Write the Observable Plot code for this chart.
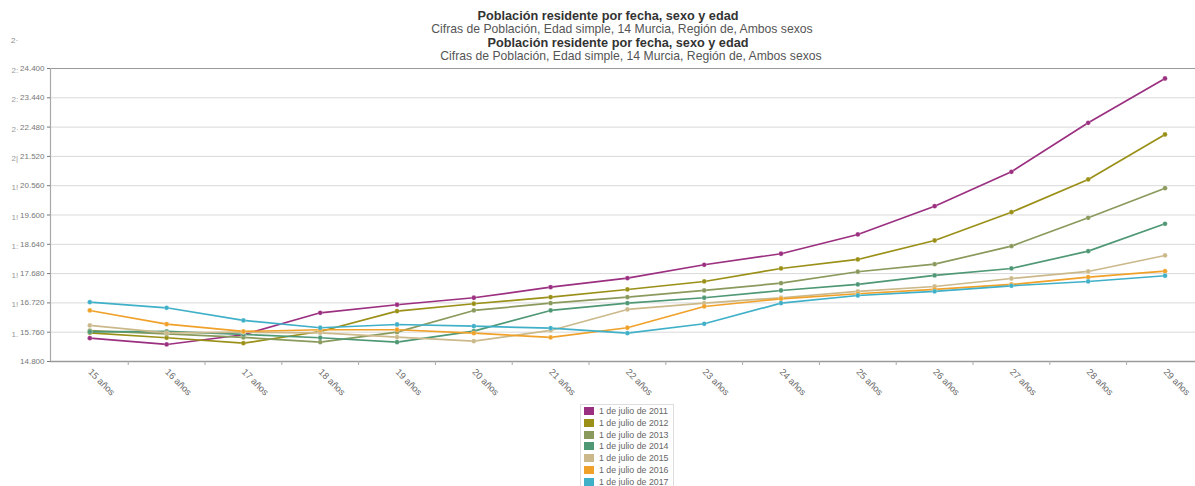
<!DOCTYPE html>
<html>
<head>
<meta charset="utf-8">
<script src="https://cdn.jsdelivr.net/npm/d3@7"></script>
<script src="https://cdn.jsdelivr.net/npm/@observablehq/plot@0.6"></script>
<style>
  body { margin: 0; background: #fff; font-family: "Liberation Sans", Arial, sans-serif; }
  #wrap { position: relative; width: 1195px; height: 486px; overflow: hidden; }
  #chart { position: absolute; left: 0; top: 0; }
  .t { position: absolute; white-space: nowrap; transform: translate(-50%, -50%); line-height: 1; }
  .title { font-weight: bold; font-size: 12.7px; color: #333; }
  .sub { font-size: 12.2px; color: #555; }
  #legend { position: absolute; left: 580px; top: 404px; width: 92px; height: 90px; border: 1px solid #ddd; background: #fff; }
  .li { position: absolute; left: 3px; font-size: 8.8px; color: #666; white-space: nowrap; line-height: 1; }
  .sw { display: inline-block; width: 10px; height: 8px; margin-right: 5px; vertical-align: -1px; }
  #corner { position: absolute; left: 11px; top: 36px; font-size: 8px; color: #888; }
</style>
</head>
<body>
<div id="wrap">
  <div id="chart"></div>
  <div class="t title" style="left:608px; top:16px;">Población residente por fecha, sexo y edad</div>
  <div class="t sub" style="left:622px; top:29px;">Cifras de Población, Edad simple, 14 Murcia, Región de, Ambos sexos</div>
  <div class="t title" style="left:618px; top:43px;">Población residente por fecha, sexo y edad</div>
  <div class="t sub" style="left:631px; top:56px;">Cifras de Población, Edad simple, 14 Murcia, Región de, Ambos sexos</div>
  <div id="corner">2·</div>
  <div id="legend"></div>
</div>
<script>
const ages = [15, 16, 17, 18, 19, 20, 21, 22, 23, 24, 25, 26, 27, 28, 29];
const ageLabels = ["15 años","16 años","17 años","18 años","19 años","20 años","21 años","22 años","23 años","24 años","25 años","26 años","27 años","28 años","29 años"];
const seriesNames = ["1 de julio de 2011","1 de julio de 2012","1 de julio de 2013","1 de julio de 2014","1 de julio de 2015","1 de julio de 2016","1 de julio de 2017"];
const v2011 = [15565, 15358, 15676, 16396, 16659, 16888, 17235, 17530, 17969, 18330, 18962, 19889, 21016, 22621, 24072];
const v2012 = [15741, 15578, 15400, 15784, 16449, 16692, 16908, 17160, 17422, 17848, 18143, 18765, 19692, 20764, 22238];
const v2013 = [15810, 15708, 15588, 15434, 15762, 16472, 16711, 16908, 17130, 17366, 17740, 17989, 18579, 19509, 20479];
const v2014 = [15770, 15784, 15686, 15578, 15434, 15794, 16472, 16711, 16888, 17127, 17324, 17619, 17848, 18415, 19312];
const v2015 = [15981, 15741, 15760, 15741, 15598, 15466, 15817, 16505, 16711, 16888, 17095, 17258, 17520, 17750, 18274];
const v2016 = [16472, 16024, 15784, 15840, 15840, 15729, 15588, 15905, 16603, 16855, 17019, 17160, 17324, 17563, 17760];
const v2017 = [16744, 16560, 16145, 15905, 16013, 15958, 15892, 15729, 16036, 16711, 16963, 17095, 17281, 17422, 17609];
const colors = ["#9b2f80", "#9a9018", "#8a9a5c", "#4f9875", "#cbb98b", "#f0a12a", "#40b0c8"];
const yTicks = [14800, 15760, 16720, 17680, 18640, 19600, 20560, 21520, 22480, 23440, 24400];
const yPrefixes = ["", "1.", "1!", "1!", "1:", "1!", "1!", "2|", "2·", "2:", "2:"];

const allSeries = [v2011, v2012, v2013, v2014, v2015, v2016, v2017];
const rows = seriesNames.flatMap((s, i) => ages.map((a, j) => ({serie: s, age: a, value: allSeries[i][j]})));
const labelOf = new Map(ages.map((a, i) => [a, ageLabels[i]]));
const halfTicks = ages.slice(0, -1).map(a => a + 0.5);
const fmt = d => d3.format(",.0f")(d).replace(/,/g, ".");

const xDomain = [14.488, 29.397];
const chart = Plot.plot({
  width: 1195,
  height: 400,
  marginTop: 68,
  marginBottom: 39,
  marginLeft: 50,
  marginRight: 0,
  style: {fontFamily: "Liberation Sans, Arial, sans-serif", background: "transparent", overflow: "visible"},
  x: {type: "linear", domain: xDomain},
  y: {domain: [14800, 24400]},
  color: {domain: seriesNames, range: colors},
  marks: [
    Plot.gridY(yTicks, {stroke: "#d9d9d9", strokeOpacity: 1}),
    Plot.ruleY([yTicks[yTicks.length - 1]], {stroke: "#9a9a9a"}),
    Plot.ruleX([xDomain[0]], {stroke: "#a8a8a8", strokeWidth: 1.2}),
    Plot.ruleY([yTicks[0]], {stroke: "#9a9a9a", strokeWidth: 1.5}),
    Plot.axisY({ticks: yTicks, tickFormat: fmt, tickSize: 3, tickPadding: 3, fontSize: 8, color: "#777", label: null}),
    Plot.text(yTicks, {y: d => d, text: (d, i) => yPrefixes[i], frameAnchor: "left", dx: -39, dy: 2, fontSize: 8, fill: "#999", textAnchor: "start"}),
    Plot.axisX({ticks: halfTicks, tickFormat: () => "", tickSize: 4, color: "#aaa", label: null}),
    Plot.axisX({ticks: ages, tickFormat: d => labelOf.get(d), tickSize: 0, tickPadding: 9, tickRotate: 45, fontSize: 9.3, color: "#6a6a6a", label: null}),
    Plot.line(rows, {x: "age", y: "value", stroke: "serie", strokeWidth: 1.7}),
    Plot.dot(rows, {x: "age", y: "value", fill: "serie", r: 2.4, stroke: "white", strokeWidth: 0.4, strokeOpacity: 0.6})
  ]
});
document.getElementById("chart").appendChild(chart);

const legend = document.getElementById("legend");
seriesNames.forEach((s, i) => {
  const d = document.createElement("div");
  d.className = "li";
  d.style.top = (2 + i * 11.8) + "px";
  d.innerHTML = `<span class="sw" style="background:${colors[i]}"></span>${s}`;
  legend.appendChild(d);
});
</script>
</body>
</html>
